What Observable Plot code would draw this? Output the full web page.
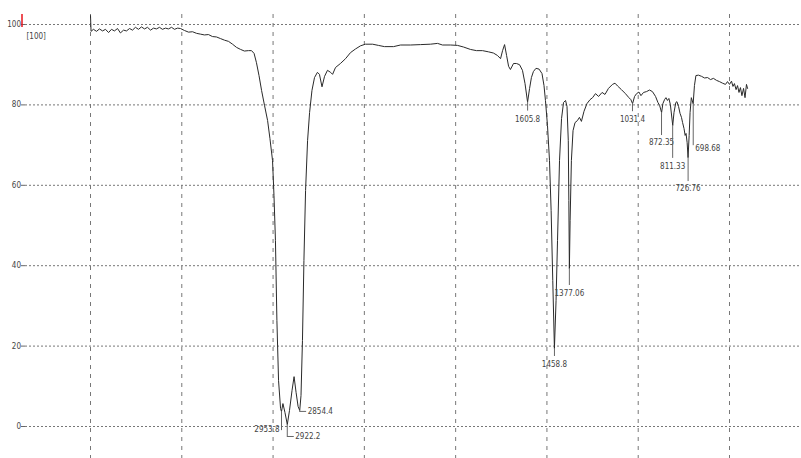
<!DOCTYPE html>
<html><head><meta charset="utf-8">
<script src="https://cdn.jsdelivr.net/npm/d3@7"></script>
<script src="https://cdn.jsdelivr.net/npm/@observablehq/plot@0.6"></script>
<style>
html,body{margin:0;padding:0;background:#fff;}
#chart{width:801px;height:458px;overflow:hidden;}
</style></head><body><div id="chart"></div>
<script>
// ---- data (wavenumber in cm-1, transmittance in %) ----
const wavenumber = [
 4000,3997,3984,3967,3951,3934,3918,3901,3885,3869,3852,3836,3819,3803,3786,3770,3754,3737,3721,3704,3688,3671,3655,3639,3622,3606,3589,3573,3556,3540,3523,3507,
 3485,3463,3441,3419,3397,3376,3354,3332,3310,3288,3266,3244,3222,3200,3178,3157,3135,3118,3104,
 3091,3077,3063,3047,3030,3017,3003,2995,2987,2979,2970,2959,2954,2946,2935,2922,2910,2896,2885,2874,2863,2854,2847,2839,2831,2822,2811,2800,2787,2773,2757,2746,2732,2718,2702,2685,2674,2658,2631,2603,2576,2549,2521,2494,
 2455,2423,2390,2340,2302,2247,2192,2138,2099,2072,2028,1990,1957,1919,1886,1853,1820,1793,1771,1754,1743,1732,1721,1710,1700,1683,1667,1650,1634,1620,1606,1595,1585,1574,1560,1543,1527,1516,1508,
 1497,1486,1477,1468,1459,1450,1442,1431,1420,1409,1398,1390,1383,1380,1377,1373,1366,1357,1346,1333,1322,1311,1297,1281,1264,1250,1234,1217,1198,1182,1163,1141,1127,1113,1092,1070,1051,1040,1031,
 1020,1009,996,985,971,955,938,922,905,892,883,872,865,856,848,840,832,824,811,804,794,788,779,771,763,757,749,743,738,732,727,721,716,709,699,692,684,670,653,637,620,604,588,571,555,538,522,511,500,489,481,473,464,456,448,440,432,423,415,407,401
];
const transmittance = [
 102.2,98.3,98.8,98.3,98.9,98.4,98.8,98.0,98.8,98.4,99.0,97.9,98.6,98.4,99.0,98.6,99.3,98.8,99.4,98.9,99.3,98.6,99.1,98.9,99.3,98.8,99.1,98.9,99.3,98.8,99.1,99.0,
 98.5,98.1,98.2,97.8,97.6,97.4,97.5,97.0,96.9,96.5,96.1,95.8,95.1,94.3,93.8,93.4,93.5,93.5,92.8,
 90.5,87.3,83.6,79.9,76.1,71.6,66.2,57.5,46.3,26.4,11.4,4.5,3.7,5.7,3.5,0.5,4.0,9.0,12.4,8.5,5.0,4.0,7.7,21.4,41.3,58.7,71.1,78.1,83.6,86.8,88.1,87.6,84.5,87.1,88.6,88.1,87.6,89.3,90.3,91.5,93.0,93.9,94.7,95.1,
 95.1,94.8,94.5,94.5,94.9,94.9,95.0,95.1,95.3,94.9,94.9,94.8,94.4,93.8,93.5,93.5,93.2,92.9,92.3,91.5,93.5,95.0,92.3,89.6,88.8,90.3,90.3,90.0,88.6,85.3,80.7,84.1,86.8,88.3,89.1,88.9,87.8,84.8,81.1,
 74.9,66.2,53.7,36.3,19.4,31.3,46.3,66.2,76.6,80.6,81.1,79.6,71.1,56.2,39.3,51.2,66.2,73.6,75.6,76.1,76.9,75.9,78.4,80.3,81.3,81.8,82.8,82.1,83.1,82.6,84.1,85.1,85.4,84.7,83.8,82.8,81.8,81.3,80.3,
 82.1,82.8,83.2,82.3,83.1,83.3,83.7,83.3,82.1,80.6,79.9,78.1,80.3,81.3,81.8,81.1,81.6,80.1,74.9,78.1,80.6,80.8,79.6,77.9,76.9,75.6,74.1,72.4,72.9,70.6,66.9,72.4,78.1,81.8,80.3,84.8,87.3,87.4,87.1,86.7,86.8,86.3,86.6,86.1,85.8,85.4,85.1,85.8,85.1,85.9,84.6,85.3,83.8,84.8,83.1,84.3,82.3,84.1,81.8,85.1,84.1
];
const gridWavenumbers = [4000,3500,3000,2500,2000,1500,1000,500];
const yTicks = [0,20,40,60,80,100];
const yTickLabels = ["0","20","40","60","80","100"];
const peakLabels = ["2953.8","2922.2","2854.4","1605.8","1458.8","1377.06","1031.4","872.35","811.33","726.76","698.68"];
const peakWavenumbers = [2953.8,2922.2,2854.4,1605.8,1458.8,1377.06,1031.4,872.35,811.33,726.76,698.68];
const peakTransmittance = [3.7,0.5,4.0,80.7,19.4,39.3,80.3,78.1,74.9,66.9,80.3];
const scaleLabel = "[100]";

// ---- build tables ----
const spectrum = wavenumber.map((wn, i) => ({wn, t: transmittance[i]}));
const peaks = peakLabels.map((label, i) => ({label, wn: peakWavenumbers[i], t: peakTransmittance[i]}));

// ---- layout ----
const W = 801, H = 458;
const xDomain = [4000, 500], xRange = [90, 729];
const yDomain = [0, 100], yRange = [426, 24];
const pxX = px => xDomain[0] + (px - xRange[0]) * (xDomain[1] - xDomain[0]) / (xRange[1] - xRange[0]);
const pxY = py => yDomain[0] + (py - yRange[0]) * (yDomain[1] - yDomain[0]) / (yRange[1] - yRange[0]);
const uY = (yDomain[1] - yDomain[0]) / (yRange[0] - yRange[1]); // data units per px (y)
const uX = (xDomain[0] - xDomain[1]) / (xRange[1] - xRange[0]); // data units per px (x)

// leader length (px) and label placement per peak
const layout = {
  "2953.8": {len: 19, mode: "left", dx: -2, dy: -1},
  "2922.2": {len: 12, mode: "elbow", dx: 8, dy: 0},
  "2854.4": {len: 1, mode: "elbow", dx: 8, dy: 0},
  "1605.8": {len: 9, mode: "below", dx: 0, dy: 8},
  "1458.8": {len: 8, mode: "below", dx: 0, dy: 8},
  "1377.06": {len: 17, mode: "below", dx: 0, dy: 8},
  "1031.4": {len: 8, mode: "below", dx: 0, dy: 8},
  "872.35": {len: 23, mode: "below", dx: 0, dy: 7},
  "811.33": {len: 33, mode: "below", dx: 0, dy: 8},
  "726.76": {len: 24, mode: "below", dx: 0, dy: 7},
  "698.68": {len: 42, mode: "right", dx: 2, dy: 3}
};

const FONT = "'Liberation Sans Narrow', 'DejaVu Sans Condensed', 'Arial Narrow', sans-serif";
const gridColor = "#777";
const LABEL_SIZE = 8;

const peakMarks = [];
for (const p of peaks) {
  const L = layout[p.label];
  const endT = p.t - L.len * uY;
  peakMarks.push(Plot.ruleX([p], {x: "wn", y1: "t", y2: () => endT, stroke: "#666", strokeWidth: 1}));
  if (L.mode === "elbow") {
    peakMarks.push(Plot.ruleY([p], {y: () => endT, x1: "wn", x2: d => d.wn - 7 * uX, stroke: "#666", strokeWidth: 1}));
    peakMarks.push(Plot.text([p], {x: d => d.wn - L.dx * uX, y: () => endT, text: "label", textAnchor: "start",
      dy: L.dy, fill: "#444", fontSize: LABEL_SIZE, fontFamily: FONT}));
  } else if (L.mode === "below") {
    peakMarks.push(Plot.text([p], {x: "wn", y: () => endT, text: "label", textAnchor: "middle",
      dy: L.dy, fill: "#444", fontSize: LABEL_SIZE, fontFamily: FONT}));
  } else {
    peakMarks.push(Plot.text([p], {x: "wn", y: () => endT, text: "label", textAnchor: L.mode === "left" ? "end" : "start",
      dx: L.dx, dy: L.dy, fill: "#444", fontSize: LABEL_SIZE, fontFamily: FONT}));
  }
}

const chart = Plot.plot({
  width: W, height: H,
  marginLeft: 25, marginRight: 0, marginTop: 14, marginBottom: 0,
  style: {background: "#fff", fontFamily: FONT, overflow: "hidden"},
  x: {type: "linear", domain: xDomain, range: xRange, axis: null},
  y: {type: "linear", domain: yDomain, range: yRange, axis: null},
  marks: [
    Plot.ruleX(gridWavenumbers, {stroke: gridColor, strokeWidth: 1, strokeDasharray: "4,5"}),
    Plot.ruleY(yTicks, {stroke: gridColor, strokeWidth: 1, strokeDasharray: "2,2"}),
    Plot.ruleY(yTicks, {x1: pxX(21), x2: pxX(25), stroke: "#666", strokeWidth: 1}),
    Plot.ruleX([pxX(21.5)], {y1: pxY(14), y2: pxY(27), stroke: "#e8141c", strokeWidth: 1.5}),
    Plot.text(yTicks, {x: pxX(20.5), y: d => d, text: (d, i) => yTickLabels[i], textAnchor: "end",
      fill: "#444", fontSize: 8, fontFamily: FONT}),
    Plot.text([scaleLabel], {x: pxX(26), y: pxY(36), text: d => d, textAnchor: "start",
      fill: "#444", fontSize: 8, fontFamily: FONT}),
    Plot.line(spectrum, {x: "wn", y: "t", stroke: "#2a2a2a", strokeWidth: 1}),
    ...peakMarks
  ]
});
document.getElementById("chart").appendChild(chart);
</script>
</body></html>
